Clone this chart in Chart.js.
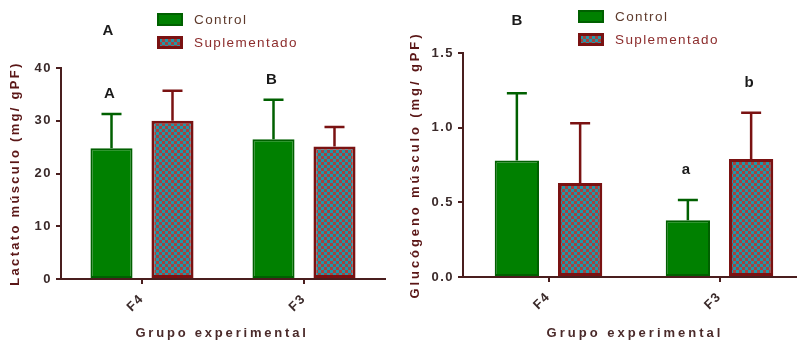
<!DOCTYPE html>
<html>
<head>
<meta charset="utf-8">
<script src="https://cdn.jsdelivr.net/npm/chart.js@4.4.1/dist/chart.umd.min.js"></script>
<style>
    html, body { margin: 0; padding: 0; background: #fff; width: 797px; height: 342px; overflow: hidden; }
    #c1 { position: absolute; left: 0; top: 0; }
    #c2 { position: absolute; left: 400px; top: 0; }
</style>
</head>
<body>
<canvas id="c1" width="400" height="342"></canvas>
<canvas id="c2" width="410" height="342"></canvas>
<script>
// ── Datos ────────────────────────────────────────────────────────────────
const grupos = ['F4', 'F3'];

const lactatoControl = [24.8, 26.5];
const lactatoControlDE = [6.5, 7.5];
const lactatoSupl = [30.0, 25.1];
const lactatoSuplDE = [5.7, 3.7];
const lactatoLetrasControl = ['A', 'B'];
const lactatoLetrasSupl = ['', ''];
const lactatoTicks = [0, 10, 20, 30, 40];

const glucogenoControl = [0.78, 0.38];
const glucogenoControlDE = [0.45, 0.135];
const glucogenoSupl = [0.63, 0.79];
const glucogenoSuplDE = [0.40, 0.31];
const glucogenoLetrasControl = ['', 'a'];
const glucogenoLetrasSupl = ['', 'b'];
const glucogenoTicks = [0, 0.5, 1.0, 1.5];

// ── Estilos ──────────────────────────────────────────────────────────────
const EJE = '#4a1e1e';
const VERDE = '#008000';
const VERDE_BORDE = '#006000';
const ROJO_BORDE = '#7a1212';
const FUENTE = "'Liberation Sans', Arial, sans-serif";

// Patrón a cuadros (teal / rojo) para "Suplementado"
function crearPatron() {
    const p = document.createElement('canvas');
    p.width = 6; p.height = 6;
    const c = p.getContext('2d');
    c.fillStyle = '#a4423f';
    c.fillRect(0, 0, 6, 6);
    c.fillStyle = '#1f98a8';
    c.fillRect(0, 0, 3, 3);
    c.fillRect(3, 3, 3, 3);
    return c.createPattern(p, 'repeat');
}
const patron = crearPatron();

// ── Plugin: barras de error + letras ─────────────────────────────────────
const barrasError = {
    id: 'barrasError',
    afterDatasetsDraw(chart, args, opts) {
        const ctx = chart.ctx;
        const y = chart.scales.y;
        chart.data.datasets.forEach((ds, i) => {
            const meta = chart.getDatasetMeta(i);
            meta.data.forEach((bar, j) => {
                const tope = y.getPixelForValue(ds.data[j] + ds.de[j]);
                ctx.save();
                ctx.strokeStyle = ds.borderColor;
                ctx.lineWidth = 2.5;
                ctx.beginPath();
                ctx.moveTo(bar.x, bar.y);
                ctx.lineTo(bar.x, tope);
                ctx.moveTo(bar.x - 10, tope);
                ctx.lineTo(bar.x + 10, tope);
                ctx.stroke();
                if (ds.letras[j]) {
                    ctx.letterSpacing = '0px';
                    ctx.fillStyle = '#1a1a1a';
                    ctx.font = `bold 15px ${FUENTE}`;
                    ctx.textAlign = 'center';
                    ctx.textBaseline = 'middle';
                    ctx.fillText(ds.letras[j], bar.x - 2, tope - opts.sep);
                }
                ctx.restore();
            });
        });
    },
};

// ── Plugin: leyenda, títulos de ejes y letra del panel ───────────────────
const decoracion = {
    id: 'decoracion',
    beforeDraw(chart) {
        chart.ctx.letterSpacing = '1.5px';
    },
    afterDraw(chart, args, o) {
        const ctx = chart.ctx;
        const ca = chart.chartArea;
        ctx.save();
        // leyenda
        ctx.lineWidth = 2;
        ctx.fillStyle = VERDE;
        ctx.strokeStyle = VERDE_BORDE;
        ctx.fillRect(o.lx, o.ly, 26, 13);
        ctx.strokeRect(o.lx + 1, o.ly + 1, 24, 11);
        ctx.fillStyle = patron;
        ctx.fillRect(o.lx, o.ly + 23, 26, 13);
        ctx.lineWidth = 3;
        ctx.strokeStyle = ROJO_BORDE;
        ctx.strokeRect(o.lx + 1.5, o.ly + 24.5, 23, 10);
        ctx.font = `13.5px ${FUENTE}`;
        ctx.letterSpacing = '1.4px';
        ctx.textBaseline = 'middle';
        ctx.textAlign = 'left';
        ctx.fillStyle = '#5e3a2c';
        ctx.fillText('Control', o.lx + 37, o.ly + 7);
        ctx.fillStyle = '#8c2c2c';
        ctx.fillText('Suplementado', o.lx + 37, o.ly + 30);

        // letra del panel
        ctx.letterSpacing = '0px';
        ctx.font = `bold 15px ${FUENTE}`;
        ctx.fillStyle = '#1a1a1a';
        ctx.textAlign = 'center';
        ctx.fillText(o.panel, o.px, o.py);

        // título eje x
        ctx.font = `bold 13px ${FUENTE}`;
        ctx.fillStyle = '#4a2a2a';
        ctx.letterSpacing = o.espX;
        ctx.fillText(o.tituloX, o.tx, 333);

        // título eje y
        ctx.fillStyle = '#5a1616';
        ctx.letterSpacing = o.espY;
        ctx.translate(o.yx, (ca.top + ca.bottom) / 2 + o.yd);
        ctx.rotate(-Math.PI / 2);
        ctx.fillText(o.tituloY, 0, 0);
        ctx.restore();
    },
};

function crearGrafico(id, control, controlDE, supl, suplDE, letrasC, letrasS, ticks, escala, deco) {
    return new Chart(document.getElementById(id), {
        type: 'bar',
        data: {
            labels: grupos,
            datasets: [
                {
                    label: 'Control',
                    data: control,
                    de: controlDE,
                    letras: letrasC,
                    backgroundColor: VERDE,
                    borderColor: VERDE_BORDE,
                    borderWidth: 2,
                    borderSkipped: false,
                    categoryPercentage: escala.cat,
                    barPercentage: escala.bar,
                },
                {
                    label: 'Suplementado',
                    data: supl,
                    de: suplDE,
                    letras: letrasS,
                    backgroundColor: patron,
                    borderColor: ROJO_BORDE,
                    borderWidth: 3,
                    borderSkipped: false,
                    categoryPercentage: escala.cat,
                    barPercentage: escala.bar,
                },
            ],
        },
        options: {
            responsive: false,
            animation: false,
            layout: { padding: escala.padding },
            plugins: {
                legend: { display: false },
                tooltip: { enabled: false },
                barrasError: { sep: escala.sep },
                decoracion: deco,
            },
            scales: {
                x: {
                    afterFit: s => { s.height = escala.altoX; },
                    ticks: {
                        color: '#3a2a2a',
                        font: { family: FUENTE, size: 13, weight: 'bold' },
                        minRotation: 45,
                        maxRotation: 45,
                        padding: 7,
                    },
                    grid: {
                        offset: false,
                        drawOnChartArea: false,
                        tickLength: 5,
                        color: EJE,
                        lineWidth: 2,
                    },
                    border: { color: EJE, width: 2 },
                },
                y: {
                    min: ticks[0],
                    max: ticks[ticks.length - 1],
                    afterFit: s => { s.width = escala.anchoY; },
                    afterBuildTicks: s => { s.ticks = ticks.map(v => ({ value: v })); },
                    ticks: {
                        color: '#3a2a2a',
                        font: { family: FUENTE, size: 13, weight: 'bold' },
                        padding: 4,
                        callback: v => escala.dec ? Number(v).toFixed(escala.dec) : v,
                    },
                    grid: {
                        drawOnChartArea: false,
                        tickLength: 5,
                        color: EJE,
                        lineWidth: 2,
                    },
                    border: { color: EJE, width: 2 },
                },
            },
        },
        plugins: [barrasError, decoracion],
    });
}

crearGrafico('c1', lactatoControl, lactatoControlDE, lactatoSupl, lactatoSuplDE,
    lactatoLetrasControl, lactatoLetrasSupl, lactatoTicks,
    { cat: 0.753, bar: 0.69, padding: { top: 68, right: 15, left: 0, bottom: 0 },
      altoX: 63, anchoY: 61, dec: 0, sep: 20 },
    { lx: 157, ly: 13, panel: 'A', px: 108, py: 31,
      tituloX: 'Grupo experimental', tx: 222, espX: '2.8px',
      tituloY: 'Lactato músculo (mg/ gPF)', yx: 15, yd: 0, espY: '2.3px' });

crearGrafico('c2', glucogenoControl, glucogenoControlDE, glucogenoSupl, glucogenoSuplDE,
    glucogenoLetrasControl, glucogenoLetrasSupl, glucogenoTicks,
    { cat: 0.74, bar: 0.70, padding: { top: 53, right: 5, left: 0, bottom: 0 },
      altoX: 65, anchoY: 63, dec: 1, sep: 30 },
    { lx: 178, ly: 10, panel: 'B', px: 117, py: 21,
      tituloX: 'Grupo experimental', tx: 235, espX: '3px',
      tituloY: 'Glucógeno músculo (mg/ gPF)', yx: 15, yd: 0, espY: '2.9px' });
</script>
</body>
</html>
